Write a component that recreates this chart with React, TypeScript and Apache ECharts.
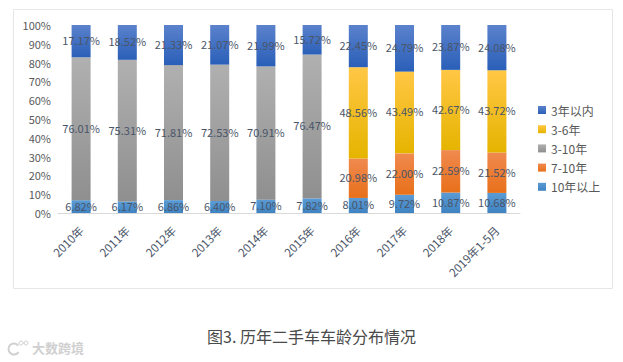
import React, { useEffect, useRef } from "react";
import * as echarts from "echarts";

const categories = ["2010年", "2011年", "2012年", "2013年", "2014年", "2015年", "2016年", "2017年", "2018年", "2019年1-5月"];
const over10 = [6.82, 6.17, 6.86, 6.4, 7.1, 7.82, 8.01, 9.72, 10.87, 10.68];
const y7to10 = [null, null, null, null, null, null, 20.98, 22.0, 22.59, 21.52];
const y3to10 = [76.01, 75.31, 71.81, 72.53, 70.91, 76.47, null, null, null, null];
const y3to6 = [null, null, null, null, null, null, 48.56, 43.49, 42.67, 43.72];
const under3 = [17.17, 18.52, 21.33, 21.07, 21.99, 15.72, 22.45, 24.79, 23.87, 24.08];
const legendOrder = ["3年以内", "3-6年", "3-10年", "7-10年", "10年以上"];
const titleText = "图3. 历年二手车车龄分布情况";
const watermark = "大数跨境";
const FONT = "'Noto Sans CJK SC', 'Noto Sans', sans-serif";

const grad = (a: string, b: string) =>
  new echarts.graphic.LinearGradient(0, 0, 0, 1, [
    { offset: 0, color: a },
    { offset: 1, color: b },
  ]);

const mk = (name: string, data: (number | null)[], a: string, b: string, solid: string) => ({
  name,
  type: "bar",
  stack: "t",
  barWidth: 19,
  data,
  color: solid,
  itemStyle: { color: grad(a, b) },
  label: {
    show: true,
    position: "inside",
    offset: [0, -1],
    color: "#4a5568",
    fontSize: 11,
    fontFamily: FONT,
    overflow: "none",
    formatter: (p: any) => (p.value == null ? "" : Number(p.value).toFixed(2) + "%"),
  },
  emphasis: { disabled: true },
});

export default function App() {
  const ref = useRef<HTMLDivElement>(null);
  useEffect(() => {
    const chart = echarts.init(ref.current!, null, { renderer: "svg" });
    chart.setOption({
      animation: false,
      backgroundColor: "#ffffff",
      grid: { left: 58, right: 103, top: 25, bottom: 149, containLabel: false },
      legend: {
        orient: "vertical",
        left: 533,
        top: 99,
        itemWidth: 8,
        itemHeight: 8,
        itemGap: 7.2,
        icon: "rect",
        data: legendOrder,
        textStyle: { color: "#595959", fontSize: 12, fontFamily: FONT },
      },
      xAxis: {
        type: "category",
        data: categories,
        axisLine: { lineStyle: { color: "#d9d9d9" } },
        axisTick: { show: false },
        axisLabel: { rotate: 45, color: "#4a5568", fontSize: 11.5, fontFamily: FONT, margin: 15, interval: 0 },
      },
      yAxis: {
        type: "value",
        min: 0,
        max: 100,
        interval: 10,
        axisLine: { show: false },
        axisTick: { show: false },
        splitLine: { show: false },
        axisLabel: { color: "#595959", fontSize: 11, fontFamily: FONT, margin: 7, formatter: "{value}%" },
      },
      series: [
        mk("10年以上", over10, "#5b9bd5", "#3f83c2", "#5b9bd5"),
        mk("7-10年", y7to10, "#f08a4f", "#e8701a", "#ed7d31"),
        mk("3-10年", y3to10, "#b0b0b0", "#8f8f8f", "#a5a5a5"),
        mk("3-6年", y3to6, "#ffc745", "#e5b400", "#ffc000"),
        mk("3年以内", under3, "#5b82cc", "#2a5fb8", "#4472c4"),
      ],
      graphic: [
        {
          type: "rect",
          z: -1,
          shape: { x: 13.5, y: 9.5, width: 599, height: 279 },
          style: { fill: "none", stroke: "#e4e6e8", lineWidth: 1 },
        },
        {
          type: "text",
          left: "center",
          top: 328,
          style: { text: titleText, fill: "#4a4a4a", fontSize: 16, fontFamily: FONT },
        },
        {
          type: "text",
          x: 32,
          y: 341,
          style: { text: watermark, fill: "#d0d0d0", fontSize: 13, fontWeight: "bold", fontFamily: FONT },
        },
        {
          type: "arc",
          shape: { cx: 14, cy: 349, r: 5.5, startAngle: 0.6, endAngle: 5.6 },
          style: { fill: "none", stroke: "#d0d0d0", lineWidth: 2 },
        },
        {
          type: "circle",
          shape: { cx: 21, cy: 343, r: 2 },
          style: { fill: "none", stroke: "#d0d0d0", lineWidth: 1 },
        },
        {
          type: "circle",
          shape: { cx: 26, cy: 343, r: 2 },
          style: { fill: "none", stroke: "#d0d0d0", lineWidth: 1 },
        },
      ],
    });
    return () => chart.dispose();
  }, []);
  return <div ref={ref} style={{ position: "fixed", left: 0, top: 0, width: 623, height: 362 }} />;
}
